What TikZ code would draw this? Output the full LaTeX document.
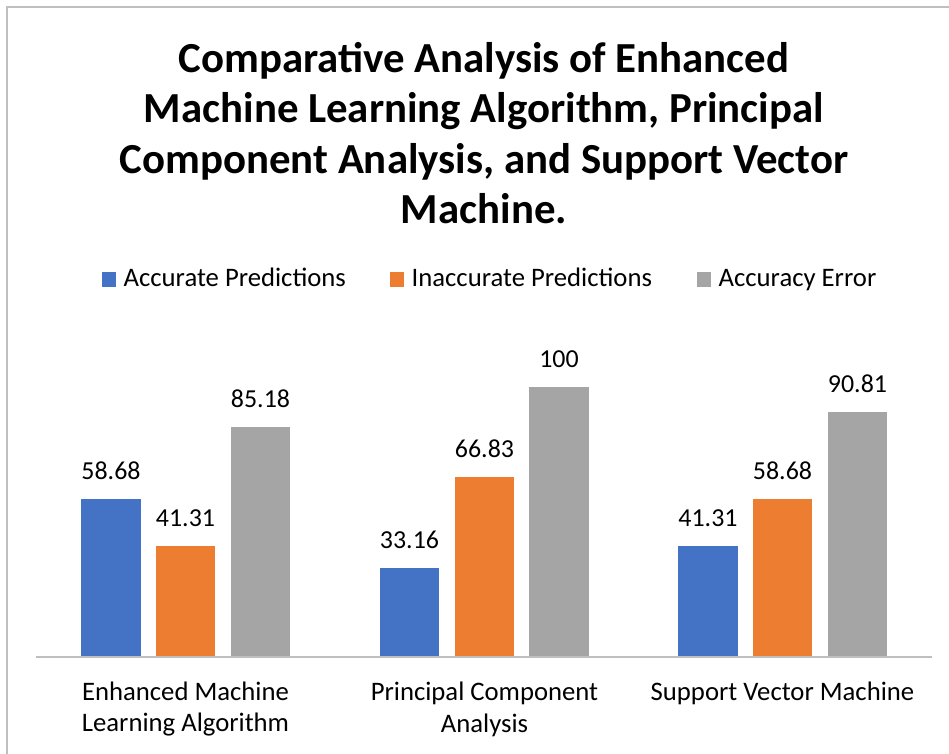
\documentclass[tikz,border=0pt]{standalone}
\usepackage{fontspec}
\setmainfont{Carlito}
\usepackage{xcolor}
\usetikzlibrary{positioning}
\definecolor{accblue}{HTML}{4472C4}
\definecolor{inaccorange}{HTML}{ED7D31}
\definecolor{errgray}{HTML}{A5A5A5}
\definecolor{framegray}{HTML}{BFBFBF}

\begin{document}
\begin{tikzpicture}[x=1bp, y=-1bp,
  bar/.style={rectangle, inner sep=0pt, outer sep=0pt, minimum width=59.5bp, anchor=south},
  vallabel/.style={inner sep=0pt, font=\fontsize{26}{30}\selectfont, text=black},
  catlabel/.style={inner sep=0pt, align=center, font=\fontsize{26.8}{32}\selectfont, text=black},
  legsq/.style={rectangle, inner sep=0pt, minimum size=14.5bp},
  legtext/.style={inner sep=0pt, font=\fontsize{26.8}{30}\selectfont, text=black},
]
  \useasboundingbox (0,0) rectangle (949,754);
  \draw[framegray, line width=1.5bp] (7,7) rectangle (970,780);

  % title
  \node[align=center, inner sep=0pt, font=\bfseries\fontsize{43}{50.5}\selectfont] (title) at (484,133)
    {Comparative Analysis of Enhanced\\Machine Learning Algorithm, Principal\\Component Analysis, and Support Vector\\Machine.};

  % legend
  \node[legsq, fill=accblue] (keyA) at (109,279.5) {};
  \node[legtext, right=7bp of keyA.south east, anchor=base west] (legA) {Accurate Predictions};
  \node[legsq, fill=inaccorange] (keyI) at (397,279.5) {};
  \node[legtext, right=7bp of keyI.south east, anchor=base west] (legI) {Inaccurate Predictions};
  \node[legsq, fill=errgray] (keyE) at (704,279.5) {};
  \node[legtext, right=7bp of keyE.south east, anchor=base west] (legE) {Accuracy Error};

  % bars, 2.7bp per unit
  \node[bar, fill=accblue, minimum height=158.4bp] (emlA) at (111,657) {};
  \node[bar, fill=inaccorange, minimum height=111.5bp] (emlI) at (185.5,657) {};
  \node[bar, fill=errgray, minimum height=230bp] (emlE) at (260.5,657) {};
  \node[bar, fill=accblue, minimum height=89.5bp] (pcaA) at (409.5,657) {};
  \node[bar, fill=inaccorange, minimum height=180.4bp] (pcaI) at (484.5,657) {};
  \node[bar, fill=errgray, minimum height=270bp] (pcaE) at (559,657) {};
  \node[bar, fill=accblue, minimum height=111.5bp] (svmA) at (708,657) {};
  \node[bar, fill=inaccorange, minimum height=158.4bp] (svmI) at (782.5,657) {};
  \node[bar, fill=errgray, minimum height=245.2bp] (svmE) at (857.5,657) {};

  % value labels
  \node[vallabel, above=19bp of emlA] (valemlA) {58.68};
  \node[vallabel, above=19bp of emlI] (valemlI) {41.31};
  \node[vallabel, above=19bp of emlE] (valemlE) {85.18};
  \node[vallabel, above=19bp of pcaA] (valpcaA) {33.16};
  \node[vallabel, above=19bp of pcaI] (valpcaI) {66.83};
  \node[vallabel, above=19bp of pcaE] (valpcaE) {100};
  \node[vallabel, above=19bp of svmA] (valsvmA) {41.31};
  \node[vallabel, above=19bp of svmI] (valsvmI) {58.68};
  \node[vallabel, above=19bp of svmE] (valsvmE) {90.81};

  % axis
  \coordinate (axL) at (36,657);
  \coordinate (axR) at (932,657);
  \draw[framegray, line width=1.5bp] (axL) -- (axR);

  % categories
  \node[catlabel] (catEML) at (185.5,709) {Enhanced Machine\\Learning Algorithm};
  \node[catlabel] (catPCA) at (484.5,709) {Principal Component\\Analysis};
  \node[catlabel] (catSVM) at (782.5,693) {Support Vector Machine};
\end{tikzpicture}
\end{document}
